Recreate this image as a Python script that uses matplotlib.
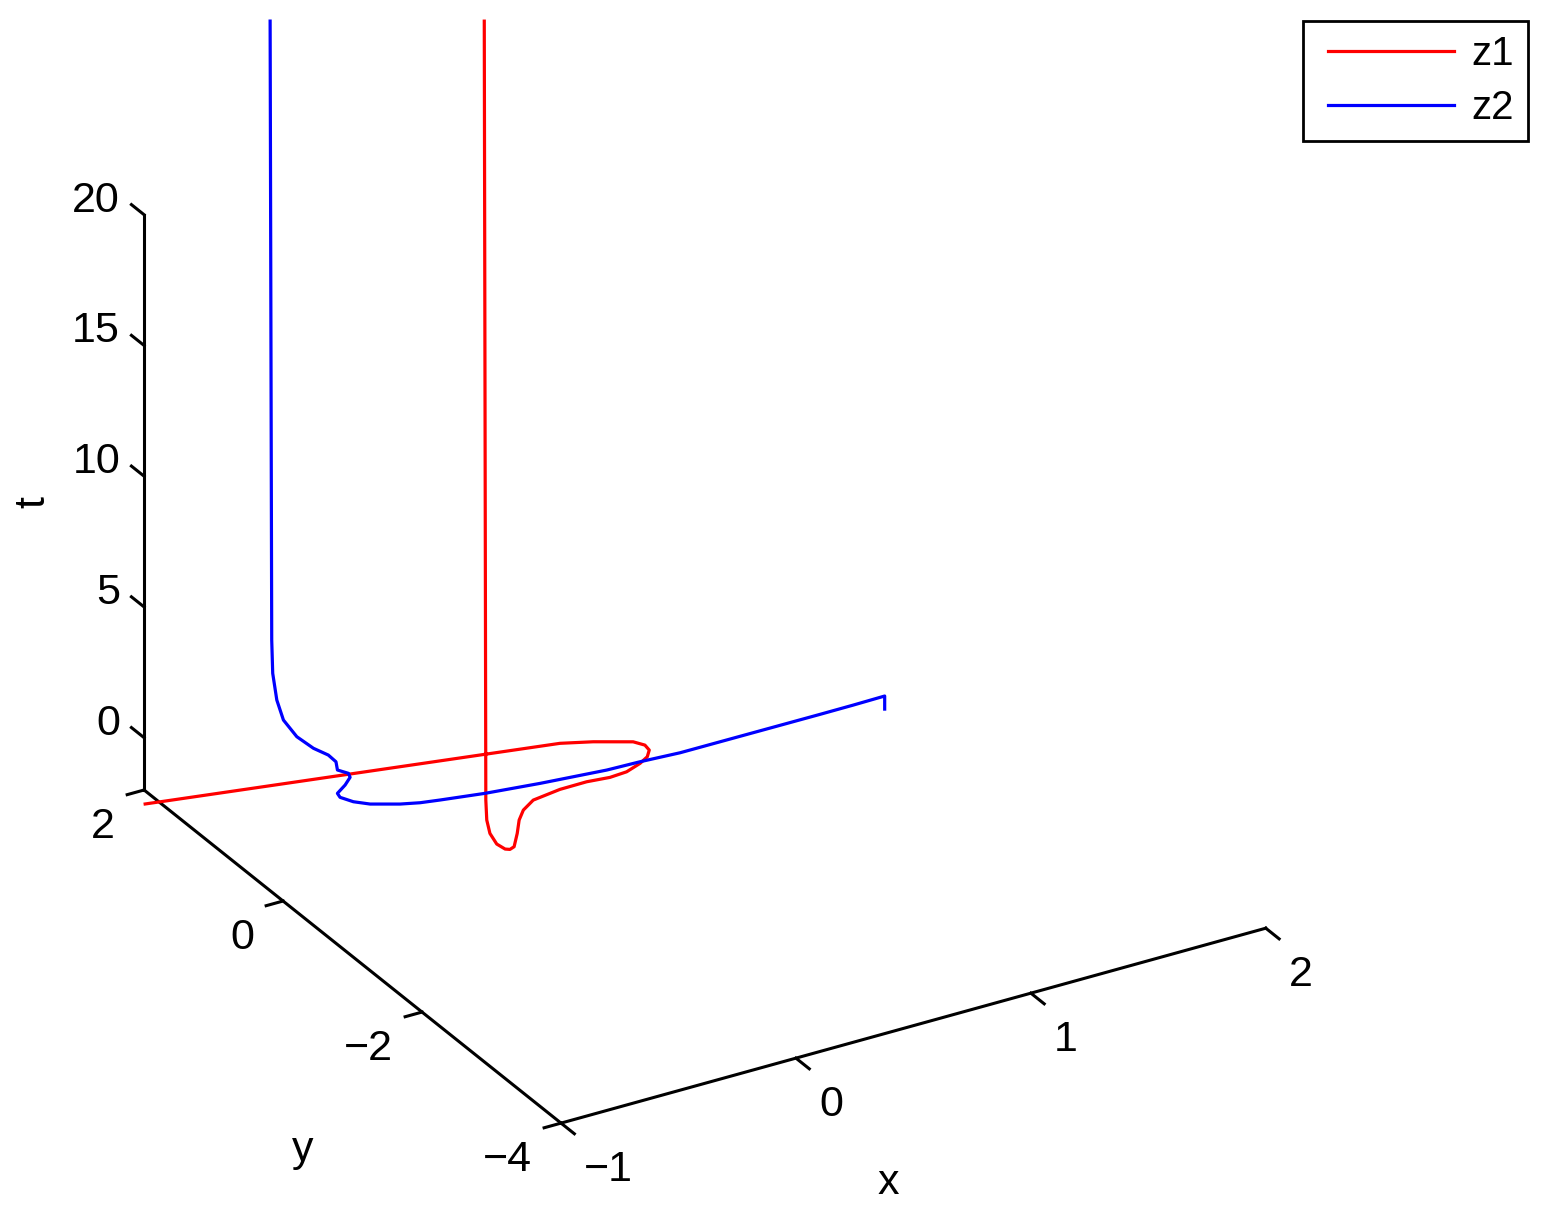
import numpy as np
import matplotlib
matplotlib.use("Agg")
import matplotlib.pyplot as plt
from matplotlib.transforms import Affine2D, IdentityTransform
from matplotlib.legend_handler import HandlerLine2D

plt.rcParams['font.family'] = ['Liberation Sans', 'DejaVu Sans']
plt.rcParams['font.size'] = 31

# ---- data: trajectories (x = real part, y = imag part, t = time) ----
z1_x = [-1.259, 0.267, 0.374, 0.495, 0.516, 0.507, 0.471, 0.419, 0.339, 0.260,
        0.164, 0.043, -0.091, -0.168, -0.227, -0.294, -0.365, -0.394, -0.413,
        -0.430, -0.425, -0.408, -0.394, -0.400]
z1_y = [1.109, 0.298, 0.182, 0.016, -0.082, -0.175, -0.268, -0.340, -0.417,
        -0.444, -0.434, -0.458, -0.527, -0.645, -0.784, -0.983, -1.178, -1.216,
        -1.211, -1.148, -1.033, -0.930, -0.869, -0.867]
z1_t = [0.0, 0.25, 0.29, 0.34, 0.37, 0.40, 0.43, 0.46, 0.50, 0.54, 0.59, 0.65,
        0.72, 0.78, 0.84, 0.92, 1.0, 1.05, 1.1, 1.2, 1.35, 1.6, 2.2, 32.0]

z2_x = [1.455, 1.455, 1.309, 1.157, 0.542, 0.369, 0.221, -0.058, -0.287, -0.466,
        -0.545, -0.621, -0.726, -0.778, -0.813, -0.816, -0.769, -0.733, -0.733,
        -0.770, -0.768, -0.807, -0.879, -0.953, -1.007, -1.042, -1.063, -1.069,
        -1.077]
z2_y = [-0.358, -0.358, -0.398, -0.434, -0.500, -0.507, -0.530, -0.514, -0.496,
        -0.454, -0.434, -0.402, -0.326, -0.261, -0.188, -0.160, -0.112, -0.062,
        -0.038, -0.005, 0.023, 0.001, -0.028, -0.039, -0.029, -0.052, -0.064,
        -0.070, -0.074]
z2_t = [0.0, 0.5, 0.6, 0.7, 0.9, 1.0, 1.1, 1.25, 1.4, 1.5, 1.55, 1.62, 1.72,
        1.8, 1.9, 2.0, 2.1, 2.2, 2.3, 2.45, 2.7, 3.1, 3.6, 4.25, 5.0, 5.9, 7.0,
        8.3, 32.0]

x_ticks = [-1, 0, 1, 2]
y_ticks = [-4, -2, 0, 2]
t_ticks = [0, 5, 10, 15, 20]
x_lim = (-1, 2)
y_lim = (-4, 2)
t_lim = (-2, 20)
series_labels = ['z1', 'z2']
series_colors = ['red', 'blue']

# ---- figure ----
W_PX, H_PX = 1548, 1223
fig = plt.figure(figsize=(W_PX / 100, H_PX / 100), dpi=100)
ax = fig.add_axes([0.1, 0.1, 0.8, 0.8], projection='3d', proj_type='ortho')
ax.set_box_aspect((818, 822.5, 652))
ax.view_init(elev=28.04, azim=-120.47)

ax.plot(z1_x, z1_y, z1_t, color=series_colors[0], lw=2.3, label=series_labels[0],
        clip_on=False)
ax.plot(z2_x, z2_y, z2_t, color=series_colors[1], lw=2.3, label=series_labels[1],
        clip_on=False)

ax.set_xlim(*x_lim)
ax.set_ylim(*y_lim)
ax.set_zlim(*t_lim)
ax.set_xticks(x_ticks)
ax.set_yticks(y_ticks)
ax.set_zticks(t_ticks)
ax.grid(False)

# tick marks: (axis, inward factor, outward factor)
for axis, inf, outf in ((ax.xaxis, 0.40, 0.0), (ax.yaxis, 0.30, 0.0),
                        (ax.zaxis, 0.0, 0.38)):
    axis.set_pane_color((1, 1, 1, 0))
    axis.pane.set_edgecolor((1, 1, 1, 0))
    axis.line.set_color('black')
    axis.line.set_linewidth(2.2)
    axis._axinfo['tick']['inward_factor'] = inf
    axis._axinfo['tick']['outward_factor'] = outf
    axis._axinfo['tick']['linewidth'] = {True: 2.2, False: 1.0}

# z ticks point along the y direction (as in the reference)
ax.zaxis._get_tickdir = lambda *a, **k: 1

ax.set_xlabel('x')
ax.set_ylabel('y')
ax.zaxis.set_rotate_label(False)
ax.set_zlabel('t', rotation=90)

leg = ax.legend(loc='upper right', bbox_to_anchor=(1528 / W_PX, 1 - 21 / H_PX),
                bbox_transform=fig.transFigure, fancybox=False, edgecolor='black',
                framealpha=1, borderaxespad=0, fontsize=29, handlelength=3.395,
                handletextpad=0.42, labelspacing=0.385, borderpad=0.354,
                handler_map={matplotlib.lines.Line2D: HandlerLine2D(xpad=0.267)})
leg.get_frame().set_linewidth(2.0)

# ---- place the 3D box so that its corners land where the reference has them ----
anchors = [((-1.0, -4.0, -2.0), (561, 1123)),
           ((2.0, -4.0, -2.0), (1266, 928)),
           ((-1.0, 2.0, 20.0), (144, 215)),
           ((-1.0, 2.0, -2.0), (144, 790))]


def to_px(p):
    M = ax.get_proj()
    vec = M @ np.array([p[0], p[1], p[2], 1.0])
    return ax.transData.transform((vec[0] / vec[3], vec[1] / vec[3]))


def fit_box():
    fig.canvas.draw()
    bb = ax.bbox
    c = np.array([(bb.x0 + bb.x1) / 2, (bb.y0 + bb.y1) / 2])
    L = bb.width
    F, T = [], []
    for p, (u, v) in anchors:
        F.append((to_px(p) - c) / L)
        T.append((u, H_PX - v))
    F = np.array(F)
    T = np.array(T)
    Fm, Tm = F.mean(0), T.mean(0)
    L2 = ((F - Fm) * (T - Tm)).sum() / ((F - Fm) ** 2).sum()
    c2 = Tm - L2 * Fm
    ax.set_position([(c2[0] - L2 / 2) / W_PX, (c2[1] - L2 / 2) / H_PX,
                     L2 / W_PX, L2 / H_PX])


fit_box()
fit_box()
fig.canvas.draw()

# ---- tick-label placement relative to each tick (MATLAB-like) ----
# (axis, tick values, 3D point of tick, pixel offset (right, down), ha)
tick_specs = [
    (ax.xaxis, x_ticks, lambda v: (v, y_lim[0], t_lim[0]), (23, 58), 'left'),
    (ax.yaxis, y_ticks, lambda v: (x_lim[0], v, t_lim[0]), (-29, 48), 'right'),
    (ax.zaxis, t_ticks, lambda v: (x_lim[0], y_lim[1], v), (-24, -3), 'right'),
]
for axis, vals, pt, (dx, dy), ha in tick_specs:
    offs = []
    for tick, val in zip(axis.get_major_ticks(), vals):
        cur = ax.transData.transform(tick.label1.get_position())
        target = to_px(pt(val)) + np.array([dx, -dy])
        offs.append(target - cur)
    orig = axis.get_major_ticks

    def patched(numticks=None, _orig=orig, _offs=offs, _ha=ha):
        ticks = _orig(numticks)
        for t, off in zip(ticks, _offs):
            t.label1.set_transform(ax.transData + Affine2D().translate(*off))
            t.label1.set_horizontalalignment(_ha)
            t.label1.set_verticalalignment('baseline')
        return ticks

    axis.get_major_ticks = patched

# ---- axis-label centres (pixel positions of the reference, y downward) ----
for axis, (u, v) in ((ax.xaxis, (888, 1183)), (ax.yaxis, (303, 1150)),
                     (ax.zaxis, (33, 502))):
    lab = axis.label
    orig_draw = lab.draw

    def new_draw(renderer, _lab=lab, _orig=orig_draw, _pos=(u, H_PX - v)):
        _lab.set_transform(IdentityTransform())
        _lab.set_position(_pos)
        _lab.set_horizontalalignment('center')
        _lab.set_verticalalignment('center')
        _orig(renderer)

    lab.draw = new_draw

fig.savefig('out.png', dpi=100)
